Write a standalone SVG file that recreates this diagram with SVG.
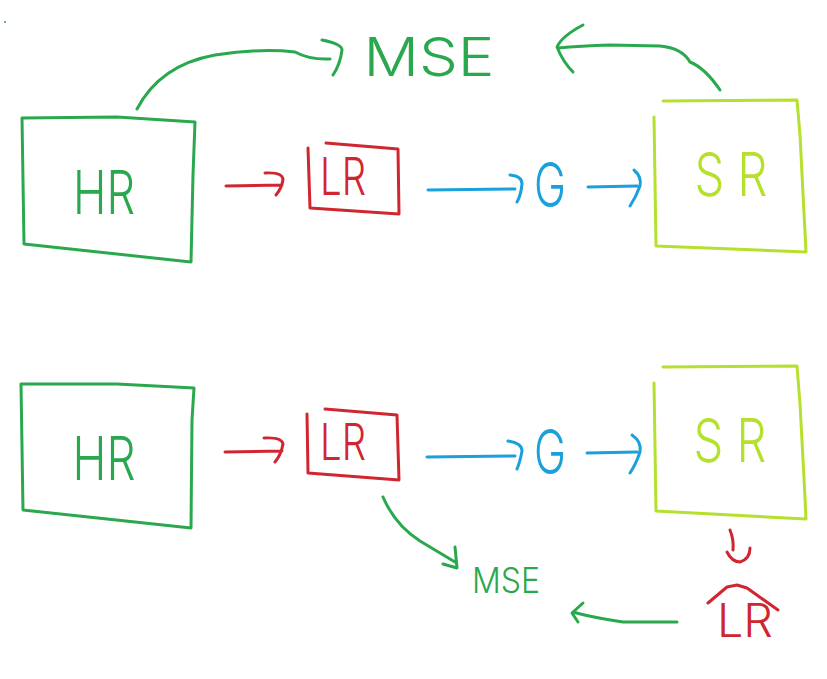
<svg xmlns="http://www.w3.org/2000/svg" width="827" height="679" viewBox="0 0 827 679">
<style>
.s{fill:none;stroke-width:3;stroke-linecap:round;stroke-linejoin:round}
.g{stroke:#2aa84e}.r{stroke:#d0262f}.b{stroke:#1aa0dc}.l{stroke:#b5e02e}
.t{font-family:Inter,"Open Sans","Liberation Sans",sans-serif;font-weight:300;text-anchor:middle}
.tg{fill:#2aa84e}.tr{fill:#d0262f}.tb{fill:#1aa0dc}.tl{fill:#b5e02e}
</style>
<rect width="827" height="679" fill="#ffffff"/>
<circle cx="5" cy="22" r="1" fill="#2aa84e"/>
<g id="hr-top">
<path class="s g" d="M22,118 L117,117 L195,122 L193,175 L191,262 L24,244 Z"/>
<text class="t tg" x="104" y="214" font-size="60" textLength="62" lengthAdjust="spacingAndGlyphs">HR</text>
</g>
<g id="lr-top">
<path class="s r" d="M308,148 L310,208 L399,214 L398,149 L326,143"/>
<text class="t tr" x="343" y="195" font-size="52" textLength="46" lengthAdjust="spacingAndGlyphs">LR</text>
</g>
<g id="g-top">
<text class="t tb" x="550" y="207" font-size="62" textLength="32" lengthAdjust="spacingAndGlyphs">G</text>
</g>
<g id="sr-top">
<path class="s l" d="M663,101 L797,100 L800,135 L806,252 L656,246 L654,117"/>
<text class="t tl" x="731" y="196" font-size="60" textLength="73" lengthAdjust="spacingAndGlyphs">S R</text>
</g>
<g id="mse-top">
<text class="t tg" x="429" y="76" font-size="54" textLength="131" lengthAdjust="spacingAndGlyphs">MSE</text>
</g>
<g id="hr-bottom">
<path class="s g" d="M21,384 L117,384 L194,388 L192,420 L191,528 L23,510 Z"/>
<text class="t tg" x="104" y="480" font-size="60" textLength="63" lengthAdjust="spacingAndGlyphs">HR</text>
</g>
<g id="lr-bottom">
<path class="s r" d="M307,414 L308,473 L399,480 L397,415 L325,409"/>
<text class="t tr" x="343" y="460" font-size="50" textLength="46" lengthAdjust="spacingAndGlyphs">LR</text>
</g>
<g id="g-bottom">
<text class="t tb" x="550" y="474" font-size="62" textLength="32" lengthAdjust="spacingAndGlyphs">G</text>
</g>
<g id="sr-bottom">
<path class="s l" d="M663,367 L797,366 L800,404 L804,478 L806,519 L656,511 L654,383"/>
<text class="t tl" x="730" y="462" font-size="60" textLength="73" lengthAdjust="spacingAndGlyphs">S R</text>
</g>
<g id="mse-bottom">
<text class="t tg" x="506" y="593" font-size="35" textLength="68" lengthAdjust="spacingAndGlyphs">MSE</text>
</g>
<g id="lr-out">
<path class="s r" d="M708,603 L727,587 L737,585 L747,588 L778,610"/>
<text class="t tr" x="745" y="637" font-size="46" textLength="56" lengthAdjust="spacingAndGlyphs">LR</text>
</g>
<g id="connectors">
<path class="s r" d="M226,186 L282,185 M265,173 Q282,172 283,179 Q282,188 276,195"/>
<path class="s b" d="M428,190 L515,189 M510,175 Q522,176 522,184 Q521,195 517,202"/>
<path class="s b" d="M588,187 L637,186 M634,170 Q642,177 640,186 Q636,197 630,206"/>
<path class="s g" d="M137,109 Q160,65 215,55 Q260,48 295,52 Q310,60 330,59 M322,40 Q342,44 342,50 Q340,65 333,75"/>
<path class="s g" d="M720,90 Q705,68 690,62 Q682,48 660,46 L610,45 Q580,46 558,48 M583,25 Q562,36 557,47 Q563,62 573,72"/>
<path class="s r" d="M225,452 L282,451 M264,438 Q282,437 283,444 Q281,455 275,462"/>
<path class="s b" d="M427,457 L515,456 M508,441 Q522,443 522,451 Q520,462 517,469"/>
<path class="s b" d="M587,453 L637,452 M632,435 Q642,442 640,452 Q636,464 630,473"/>
<path class="s g" d="M383,497 Q395,525 420,541 L455,562 M455,547 L457,568 L443,564"/>
<path class="s r" d="M730,530 Q734,540 733,550 M727,552 Q732,562 740,562 Q750,559 750,548"/>
<path class="s g" d="M677,622 L623,622 Q590,617 573,612 M583,603 L572,613 L578,622"/>
</g>
</svg>
